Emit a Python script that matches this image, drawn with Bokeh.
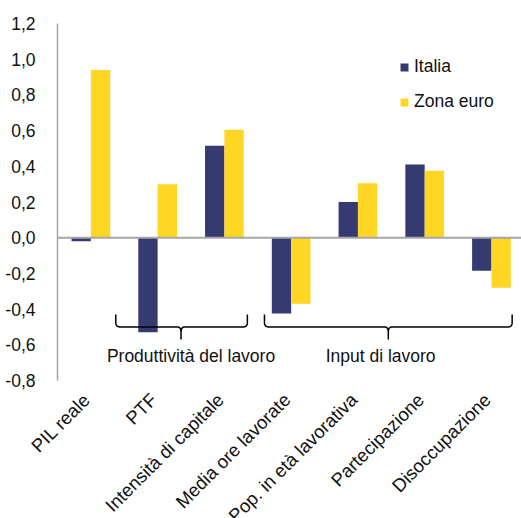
import numpy as np
from bokeh.plotting import figure
from bokeh.models import (Range1d, FixedTicker, CustomJSTickFormatter, Span, Legend, LegendItem,
                          ColumnDataSource, Label)
from bokeh.embed import file_html
from bokeh.resources import INLINE

categories = ["PIL reale", "PTF", "Intensità di capitale", "Media ore lavorate",
              "Pop. in età lavorativa", "Partecipazione", "Disoccupazione"]
italia = [-0.02, -0.53, 0.515, -0.425, 0.20, 0.41, -0.185]
zona_euro = [0.94, 0.30, 0.605, -0.37, 0.305, 0.375, -0.28]
y_ticks = [-0.8, -0.6, -0.4, -0.2, 0.0, 0.2, 0.4, 0.6, 0.8, 1.0, 1.2]
groups = [("Produttività del lavoro", 0.873, 1.85, 2.844, 2.0),
          ("Input di lavoro", 3.10, 4.955, 6.81, 4.84)]

NAVY = "#353b70"
YELLOW = "#fed623"
FONT = "Liberation Sans"
FS = "17.5px"

x_idx = np.arange(len(categories)) + 0.5
bw = 0.29
src = ColumnDataSource(dict(x_it=x_idx - bw / 2, x_ze=x_idx + bw / 2, it=italia, ze=zona_euro))

p = figure(frame_width=464, frame_height=357, output_backend="svg", toolbar_location=None,
           x_range=Range1d(0, 6.95), y_range=Range1d(-0.8, 1.2),
           min_border_left=57, min_border_right=0, min_border_top=23, min_border_bottom=138)
p.outline_line_color = None
p.xgrid.visible = False
p.ygrid.visible = False

r_it = p.vbar(x="x_it", top="it", bottom=0, width=bw, source=src, fill_color=NAVY, line_color=None)
r_ze = p.vbar(x="x_ze", top="ze", bottom=0, width=bw, source=src, fill_color=YELLOW, line_color=None)

p.add_layout(Span(location=0, dimension="width", line_color="#a6a6a6", line_width=2))

# y axis
p.yaxis.ticker = FixedTicker(ticks=y_ticks)
p.yaxis.formatter = CustomJSTickFormatter(code="return tick.toFixed(1).replace('.', ',');")
p.yaxis.major_tick_line_color = None
p.yaxis.minor_tick_line_color = None
p.yaxis.axis_line_color = "#a6a6a6"
p.yaxis.axis_line_width = 1.5
p.yaxis.major_label_standoff = 16
p.yaxis.major_label_text_font = FONT
p.yaxis.major_label_text_font_size = FS
p.yaxis.major_label_text_color = "#111111"

# x axis (label anchors nudged slightly left of the category centres)
tick_pos = [round(float(x) - 0.06, 2) for x in x_idx]
p.xaxis.ticker = FixedTicker(ticks=tick_pos)
p.xaxis.major_label_overrides = {t: c for t, c in zip(tick_pos, categories)}
p.xaxis.major_label_orientation = np.pi / 4
p.xaxis.axis_line_color = None
p.xaxis.major_tick_line_color = None
p.xaxis.minor_tick_line_color = None
p.xaxis.major_label_standoff = 10
p.xaxis.major_label_text_font = FONT
p.xaxis.major_label_text_font_size = "18.5px"
p.xaxis.major_label_text_color = "#111111"

# brackets
def quad(p0, p1, p2, n=8):
    t = np.linspace(0, 1, n)
    xs = (1 - t) ** 2 * p0[0] + 2 * (1 - t) * t * p1[0] + t ** 2 * p2[0]
    ys = (1 - t) ** 2 * p0[1] + 2 * (1 - t) * t * p1[1] + t ** 2 * p2[1]
    return list(xs), list(ys)

y_top, y_line, y_bot = -0.43, -0.50, -0.57
dx, dy = 0.06, 0.025
for name, left, mid, right, tx in groups:
    xs, ys = [left], [y_top]
    a, b = quad((left, y_line + dy), (left, y_line), (left + dx, y_line))
    xs += a; ys += b
    a, b = quad((mid - dx, y_line), (mid, y_line), (mid, y_line - dy))
    xs += a; ys += b
    xs.append(mid); ys.append(y_bot)
    p.line(xs, ys, line_color="black", line_width=1.5)
    xs, ys = [mid], [y_line - dy]
    a, b = quad((mid, y_line - dy), (mid, y_line), (mid + dx, y_line))
    xs += a; ys += b
    a, b = quad((right - dx, y_line), (right, y_line), (right, y_line + dy))
    xs += a; ys += b
    xs.append(right); ys.append(y_top)
    p.line(xs, ys, line_color="black", line_width=1.5)
    p.add_layout(Label(x=tx, y=-0.66, text=name, text_align="center", text_baseline="middle",
                       text_font=FONT, text_font_size=FS, text_color="#111111"))

legend = Legend(items=[LegendItem(label="Italia", renderers=[r_it]),
                       LegendItem(label="Zona euro", renderers=[r_ze])],
                location=(342, 268), glyph_width=10, glyph_height=10, label_height=20,
                spacing=14, label_standoff=5, padding=10, border_line_color=None,
                background_fill_alpha=0, label_text_font=FONT, label_text_font_size=FS,
                label_text_color="#111111")
p.add_layout(legend)

open("out.html", "w").write(file_html(p, INLINE))
